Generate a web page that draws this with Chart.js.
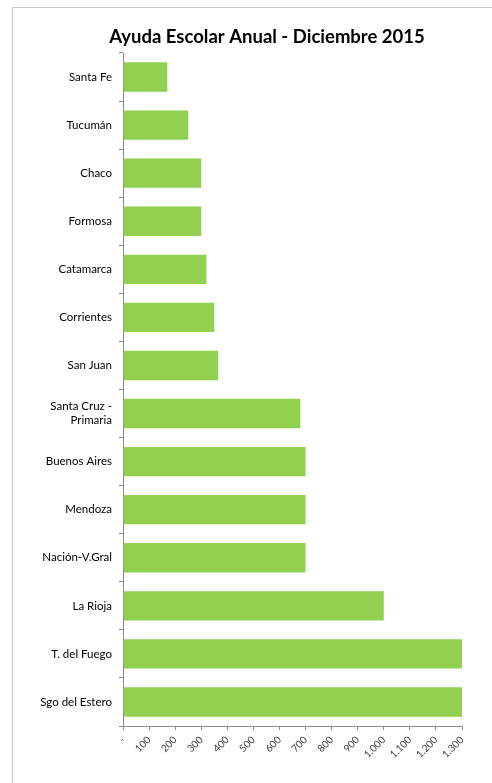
<!DOCTYPE html>
<html>
<head>
<meta charset="utf-8">
<script src="https://cdn.jsdelivr.net/npm/chart.js@4.4.0/dist/chart.umd.min.js"></script>
<style>
  html, body { margin: 0; padding: 0; background: #ffffff; }
  canvas { display: block; }
</style>
</head>
<body>
<canvas id="c" width="492" height="783"></canvas>
<script>
const titleText = 'Ayuda Escolar Anual - Diciembre 2015';
const categories = ['Santa Fe', 'Tucumán', 'Chaco', 'Formosa', 'Catamarca', 'Corrientes', 'San Juan',
  ['Santa Cruz -', 'Primaria'], 'Buenos Aires', 'Mendoza', 'Nación-V.Gral', 'La Rioja', 'T. del Fuego', 'Sgo del Estero'];
const values = [170, 250, 300, 300, 320, 350, 365, 680, 700, 700, 700, 1000, 1300, 1300];
const xMin = 0, xMax = 1300, xStep = 100;

function fmt(v) {
  if (v === 0) return '-';
  return String(v).replace(/\B(?=(\d{3})+(?!\d))/g, '.');
}

const framePlugin = {
  id: 'frame',
  beforeDraw(chart) {
    const ctx = chart.ctx;
    ctx.save();
    ctx.fillStyle = '#ffffff';
    ctx.fillRect(0, 0, chart.width, chart.height);
    ctx.strokeStyle = '#c9c9c9';
    ctx.lineWidth = 1;
    ctx.beginPath();
    ctx.moveTo(12.5, chart.height);
    ctx.lineTo(12.5, 7.5);
    ctx.lineTo(chart.width, 7.5);
    ctx.stroke();
    ctx.restore();
  },
  afterDraw(chart) {
    const ctx = chart.ctx;
    ctx.save();
    ctx.fillStyle = '#000000';
    ctx.font = 'bold 18.5px Lato';
    ctx.textAlign = 'center';
    ctx.textBaseline = 'middle';
    ctx.fillText(titleText, 267, 37);
    ctx.restore();
  }
};

new Chart(document.getElementById('c'), {
  type: 'bar',
  data: {
    labels: categories,
    datasets: [{
      data: values,
      backgroundColor: '#92d050',
      borderWidth: 0,
      categoryPercentage: 1,
      barPercentage: 0.61
    }]
  },
  options: {
    indexAxis: 'y',
    responsive: false,
    animation: false,
    layout: { padding: { left: 20, right: 30, top: 53, bottom: 0 } },
    plugins: {
      legend: { display: false },
      tooltip: { enabled: false },
      title: { display: false }
    },
    scales: {
      y: {
        afterFit(scale) { scale.width = 103; },
        border: { display: true, color: '#8c8c8c' },
        grid: { display: true, drawOnChartArea: false, drawTicks: true, tickLength: 4, color: '#8c8c8c', offset: true },
        ticks: {
          color: '#000000',
          padding: 7,
          font: { family: 'Lato', size: 11.5 }
        }
      },
      x: {
        min: xMin,
        max: xMax,
        afterFit(scale) { scale.height = 57; },
        border: { display: true, color: '#8c8c8c' },
        grid: { display: true, drawOnChartArea: false, drawTicks: true, tickLength: 4, color: '#8c8c8c' },
        ticks: {
          stepSize: xStep,
          autoSkip: false,
          minRotation: 45,
          maxRotation: 45,
          padding: 4,
          color: '#404040',
          font: { family: 'Lato', size: 10 },
          callback: (v) => fmt(v)
        }
      }
    }
  },
  plugins: [framePlugin]
});
</script>
</body>
</html>
